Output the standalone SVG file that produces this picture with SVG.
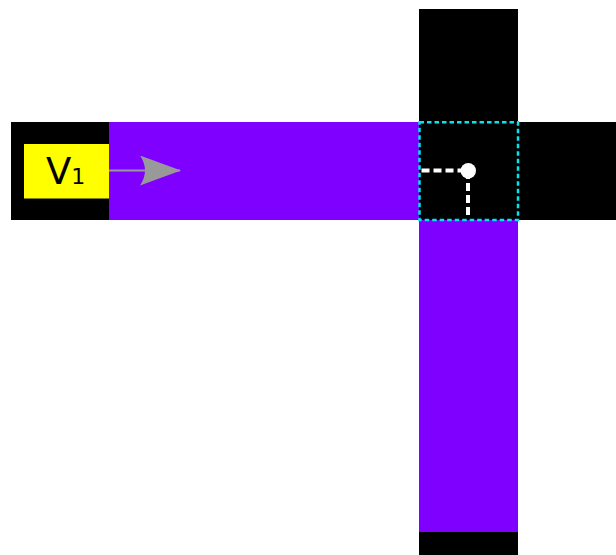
<svg xmlns="http://www.w3.org/2000/svg" width="616" height="555" viewBox="0 0 616 555">
  <style>
    .blk { fill: #000000; }
    .pur { fill: #7f00ff; }
    .guide { fill: none; stroke: #ffffff; stroke-width: 4; stroke-dasharray: 8 4; }
    .sel { fill: none; stroke: #00e5ee; stroke-width: 2.5; stroke-dasharray: 4.5 3; }
    .lbl { font-family: "DejaVu Sans", sans-serif; fill: #000000; }
  </style>
  <defs>
    <marker id="arrowhead" markerWidth="42" markerHeight="30" refX="40" refY="15" markerUnits="userSpaceOnUse" orient="auto">
      <path d="M0,0 L41,15 L0,30 Q10,15 0,0 Z" fill="#999999"/>
    </marker>
  </defs>

  <!-- horizontal band -->
  <g id="band-horizontal">
    <rect class="blk" x="11" y="122" width="605" height="98"/>
    <rect class="pur" x="109" y="122" width="310" height="98"/>
  </g>

  <!-- vertical band -->
  <g id="band-vertical">
    <rect class="blk" x="419" y="9" width="99" height="546"/>
    <rect class="pur" x="419" y="220" width="99" height="312"/>
  </g>

  <!-- crossing cell -->
  <g id="crossing">
    <rect class="sel" x="419.5" y="122.3" width="98.5" height="97.7"/>
    <path class="guide" d="M421.5,170.5 H468 M468,171 V219"/>
    <circle cx="468.3" cy="170.7" r="7.7" fill="#ffffff"/>
  </g>

  <!-- source label -->
  <g id="v1">
    <rect x="24" y="144" width="85" height="54.5" fill="#ffff00"/>
    <text class="lbl" x="46" y="184.3" font-size="37">V<tspan font-size="22">1</tspan></text>
  </g>

  <g id="connectors">
    <line x1="109" y1="170.5" x2="180" y2="170.5" stroke="#999999" stroke-width="2" marker-end="url(#arrowhead)"/>
  </g>
</svg>
